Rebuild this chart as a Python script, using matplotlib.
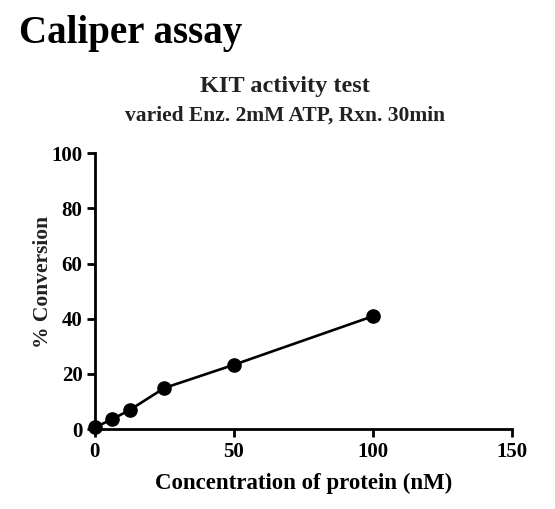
import matplotlib
matplotlib.use("Agg")
import matplotlib.pyplot as plt

# data
conc_nM = [0, 6.25, 12.5, 25, 50, 100]
conversion_pct = [0.6, 3.6, 6.9, 14.9, 23.3, 40.9]
x_ticks = [0, 50, 100, 150]
y_ticks = [0, 20, 40, 60, 80, 100]

plt.rcParams["font.family"] = ["Liberation Serif", "DejaVu Serif"]
plt.rcParams["font.weight"] = "bold"

fig = plt.figure(figsize=(5.55, 5.09), dpi=100)
ax = fig.add_axes([0.171, 0.157, 0.751, 0.542])

ax.plot(conc_nM, conversion_pct, "-o", color="black", linewidth=1.9,
        markersize=9.5, clip_on=False, zorder=3)

ax.set_xlim(0, 150)
ax.set_ylim(0, 100)
ax.set_xticks(x_ticks)
ax.set_yticks(y_ticks)

for side in ("top", "right"):
    ax.spines[side].set_visible(False)
for side in ("left", "bottom"):
    ax.spines[side].set_linewidth(2.0)
ax.tick_params(axis="both", direction="out", width=2.0, length=6,
               labelsize=15, colors="black", pad=3)
for lab in ax.get_xticklabels() + ax.get_yticklabels():
    lab.set_fontweight("bold")

ax.set_xlabel("Concentration of protein (nM)", fontsize=16.5, fontweight="bold",
              labelpad=8)
ax.set_ylabel("% Conversion", fontsize=15.5, fontweight="bold", color="#222222")
ax.yaxis.set_label_coords(-0.101, 0.533)

fig.text(0.034, 0.915, "Caliper assay", fontsize=28, fontweight="bold",
         ha="left", va="baseline")
fig.text(0.514, 0.820, "KIT activity test", fontsize=17.5, fontweight="bold",
         ha="center", va="baseline", color="#222222")
fig.text(0.514, 0.764, "varied Enz. 2mM ATP, Rxn. 30min", fontsize=15.5,
         fontweight="bold", ha="center", va="baseline", color="#222222")

fig.savefig("out.png", dpi=100)
